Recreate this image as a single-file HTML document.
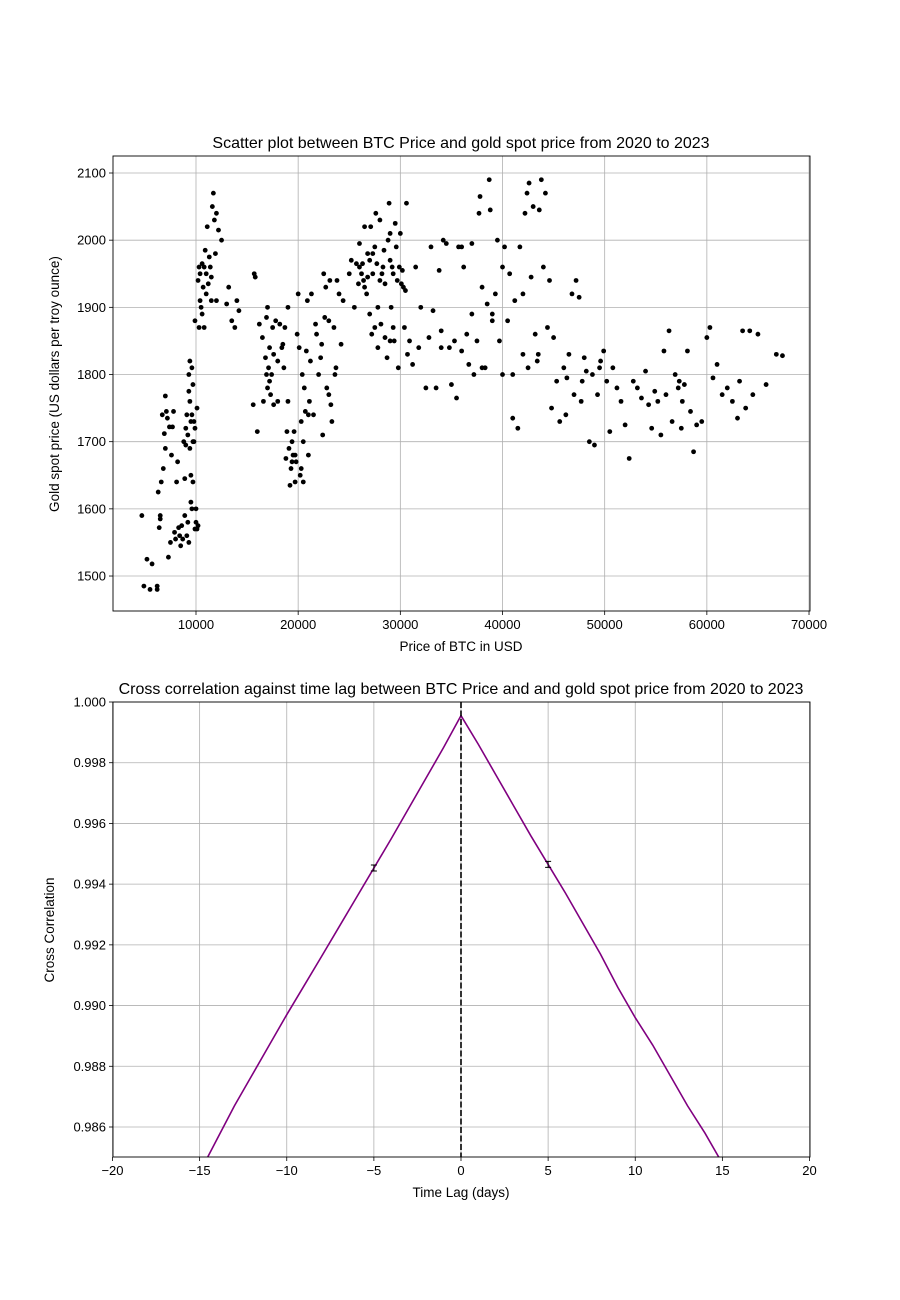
<!DOCTYPE html>
<html><head><meta charset="utf-8"><style>
html,body{margin:0;padding:0;background:#fff;}
svg{display:block;font-family:"Liberation Sans","DejaVu Sans",sans-serif;}
</style></head><body>
<svg id="chart" width="900" height="1300" viewBox="0 0 900 1300">
<defs>
<clipPath id="c1"><rect x="113" y="156" width="697" height="455"/></clipPath>
<clipPath id="c2"><rect x="113" y="702" width="697" height="455"/></clipPath>
</defs>
<g id="top"></g>
<g id="bot"></g>
</svg>
<script>
const xTicks1=[10000,20000,30000,40000,50000,60000,70000];
const yTicks1=[1500,1600,1700,1800,1900,2000,2100];
const pts=[[4700,1590],[4900,1485],[5200,1525],[5500,1480],[5700,1518],[6200,1480],[6200,1485],[6300,1625],[6400,1572],[6500,1590],[6500,1585],[6600,1640],[6700,1740],[6800,1660],[6900,1712],[7000,1690],[7000,1768],[7100,1745],[7200,1735],[7300,1528],[7400,1722],[7500,1550],[7600,1680],[7700,1722],[7800,1745],[7900,1565],[8000,1555],[8100,1640],[8200,1670],[8300,1572],[8400,1560],[8500,1545],[8600,1575],[8700,1555],[8800,1700],[8900,1645],[8900,1590],[9000,1695],[9000,1720],[9100,1560],[9100,1740],[9200,1580],[9200,1710],[9300,1775],[9300,1800],[9300,1550],[9400,1820],[9400,1760],[9400,1690],[9500,1730],[9500,1650],[9500,1610],[9600,1740],[9600,1810],[9600,1600],[9700,1785],[9700,1700],[9700,1640],[9800,1730],[9800,1700],[9900,1720],[9900,1880],[9900,1570],[10000,1600],[10000,1580],[10100,1750],[10100,1570],[10200,1575],[10200,1940],[10300,1960],[10300,1870],[10400,1950],[10400,1910],[10500,1900],[10600,1965],[10600,1890],[10700,1930],[10800,1960],[10800,1870],[10900,1985],[11000,1950],[11000,1920],[11100,2020],[11200,1935],[11300,1975],[11400,1960],[11500,1945],[11600,2050],[11700,2070],[11800,2030],[11900,1980],[12000,2040],[12200,2015],[12500,2000],[12000,1910],[11500,1910],[13000,1905],[13200,1930],[13500,1880],[13800,1870],[14000,1910],[14200,1895],
[15700,1950],[15800,1945],[15600,1755],[16000,1715],[16200,1875],[16500,1855],[16600,1760],[16800,1825],[16900,1885],[17000,1780],[17100,1810],[17200,1840],[17300,1770],[17400,1800],[17500,1870],[17600,1755],[17800,1880],[18000,1820],[18200,1875],[18400,1840],[18600,1810],[18700,1870],[18800,1675],[18900,1715],[19000,1900],[19100,1690],[19200,1635],[19300,1660],[19400,1700],[19500,1680],[19600,1715],[19700,1640],[19800,1670],[19900,1860],[20000,1920],[20100,1840],[20200,1650],[20300,1730],[20400,1800],[20500,1640],[20600,1780],[20700,1745],[20800,1835],[20900,1910],[21000,1680],[21100,1760],[21200,1820],[21300,1920],[21500,1740],[21700,1875],[21800,1860],[22000,1800],[22200,1825],[22400,1710],[22500,1950],[22600,1885],[22700,1930],[22800,1780],[23000,1880],[23100,1940],[23200,1755],[23300,1730],[23500,1870],[23700,1810],[23800,1940],[24000,1920],[24200,1845],[24400,1910],[22300,1845],[21000,1740],[20500,1700],[19000,1760],[18000,1760],[17000,1900],[19400,1670],[19700,1680],[20300,1660],[17200,1790],[17600,1830],[18500,1845],[16900,1800],[23000,1770],[23600,1800],
[25000,1950],[25200,1970],[25500,1900],[25700,1965],[25900,1935],[26000,1995],[26200,1950],[26400,1940],[26500,1930],[26700,1920],[26800,1980],[27000,1890],[27100,2020],[27200,1860],[27300,1950],[27500,1990],[27600,2040],[27700,1965],[27800,1840],[28000,2030],[28100,1875],[28200,1950],[28400,1985],[28500,1935],[28700,1825],[28800,2000],[28900,2055],[29000,1970],[29100,1900],[29200,1960],[29300,1870],[29400,1850],[29500,2025],[29600,1990],[29700,1940],[29800,1810],[30000,2010],[30200,1955],[30300,1930],[30400,1870],[30500,1925],[30600,2055],[30700,1830],[30900,1850],[31200,1815],[31500,1960],[31800,1840],[32000,1900],[27000,1970],[28000,1940],[29000,2010],[26000,1960],[27500,1870],[26500,2020],[26300,1965],[26800,1945],[27300,1980],[28300,1960],[29300,1950],[29900,1960],[30100,1935],[29000,1850],[28500,1855],[27800,1900],
[32500,1780],[32800,1855],[33000,1990],[33200,1895],[33500,1780],[33800,1955],[34000,1865],[34200,2000],[34500,1995],[34800,1840],[35000,1785],[35300,1850],[35500,1765],[35700,1990],[36000,1835],[36200,1960],[36500,1860],[36700,1815],[37000,1995],[37200,1800],[37500,1850],[37700,2040],[37800,2065],[38000,1930],[38300,1810],[38500,1905],[38700,2090],[38800,2045],[39000,1880],[39300,1920],[39500,2000],[39700,1850],[40000,1800],[40200,1990],[40500,1880],[40700,1950],[41000,1735],[41200,1910],[41500,1720],[41700,1990],[42000,1830],[42200,2040],[42400,2070],[42600,2085],[42800,1945],[43000,2050],[43200,1860],[43400,1820],[43600,2045],[43800,2090],[44000,1960],[44200,2070],[44400,1870],[44600,1940],[44800,1750],[45000,1855],[42000,1920],[40000,1960],[38000,1810],[36000,1990],[34000,1840],[42500,1810],[43500,1830],[41000,1800],[39000,1890],[37000,1890],
[45300,1790],[45600,1730],[46000,1810],[46200,1740],[46500,1830],[46800,1920],[47000,1770],[47200,1940],[47500,1915],[47700,1760],[48000,1825],[48200,1805],[48500,1700],[48800,1800],[49000,1695],[49300,1770],[49600,1820],[49900,1835],[50200,1790],[50500,1715],[50800,1810],[51200,1780],[51600,1760],[52000,1725],[52400,1675],[52800,1790],[53200,1780],[53600,1765],[54000,1805],[54300,1755],[54600,1720],[54900,1775],[55200,1760],[55500,1710],[55800,1835],[56000,1770],[56300,1865],[56600,1730],[56900,1800],[57200,1780],[57500,1720],[57800,1785],[58100,1835],[58400,1745],[58700,1685],[59000,1725],[59500,1730],[60000,1855],[60300,1870],[60600,1795],[61000,1815],[61500,1770],[62000,1780],[62500,1760],[63000,1735],[63200,1790],[63500,1865],[63800,1750],[64200,1865],[64500,1770],[65000,1860],[65800,1785],[66800,1830],[67400,1828],[46300,1795],[47800,1790],[49500,1810],[57300,1790],[57600,1760]];
const lags=[-16,-15,-14,-13,-12,-11,-10,-9,-8,-7,-6,-5,-4,-3,-2,-1,0,1,2,3,4,5,6,7,8,9,10,11,12,13,14,15,16];
const ccVals=[0.9835,0.9845,0.9856,0.9867,0.9877,0.9887,0.9897,0.99066,0.99162,0.99259,0.99356,0.99453,0.9955,0.9965,0.9975,0.9985,0.99955,0.9986,0.9976,0.9966,0.9956,0.99465,0.9937,0.9927,0.9917,0.9906,0.9896,0.9887,0.9877,0.9867,0.9858,0.9848,0.9838];
const xTicks2=[-20,-15,-10,-5,0,5,10,15,20];
const yTicks2=[0.986,0.988,0.990,0.992,0.994,0.996,0.998,1.000];

const NS="http://www.w3.org/2000/svg";
function mk(parent,tag,attrs,text){const e=document.createElementNS(NS,tag);for(const k in attrs)e.setAttribute(k,attrs[k]);if(text!==undefined)e.textContent=text;parent.appendChild(e);return e;}

const X1=v=>196+(v-10000)*0.010217, Y1=v=>173+(2100-v)*0.6717;
const T=document.getElementById('top');
for(const t of xTicks1){const x=X1(t);
 const g=mk(T,'line',{x1:x,x2:x,y1:156,y2:611,stroke:'#b0b0b0','stroke-width':0.8});
 
 mk(T,'line',{x1:x,x2:x,y1:611,y2:615,stroke:'#000','stroke-width':0.8});
 const l=mk(T,'text',{x:x,y:629,'font-size':13,'text-anchor':'middle'},t);
 }
for(const t of yTicks1){const y=Y1(t);
 const g=mk(T,'line',{x1:113,x2:810,y1:y,y2:y,stroke:'#b0b0b0','stroke-width':0.8});
 
 mk(T,'line',{x1:109,x2:113,y1:y,y2:y,stroke:'#000','stroke-width':0.8});
 const l=mk(T,'text',{x:106,y:y+4.5,'font-size':13,'text-anchor':'end'},t);
 }
const pg=mk(T,'g',{'clip-path':'url(#c1)'});
for(const p of pts){const c=mk(pg,'circle',{cx:X1(p[0]),cy:Y1(p[1]),r:2.4,fill:'#000'});
 }
let f=mk(T,'rect',{x:113,y:156,width:697,height:455,fill:'none',stroke:'#000','stroke-width':0.9});

f=mk(T,'text',{x:461,y:148,'font-size':16,'text-anchor':'middle'},'Scatter plot between BTC Price and gold spot price from 2020 to 2023');

f=mk(T,'text',{x:461,y:651,'font-size':13.5,'text-anchor':'middle'},'Price of BTC in USD');

f=mk(T,'text',{x:59,y:384,'font-size':13.5,'text-anchor':'middle',transform:'rotate(-90 59 384)'},'Gold spot price (US dollars per troy ounce)');


const X2=v=>461+v*17.425, Y2=v=>702+(1.0-v)*30357;
const B=document.getElementById('bot');
for(const t of xTicks2){const x=X2(t);
 const g=mk(B,'line',{x1:x,x2:x,y1:702,y2:1157,stroke:'#b0b0b0','stroke-width':0.8});
 
 mk(B,'line',{x1:x,x2:x,y1:1157,y2:1161,stroke:'#000','stroke-width':0.8});
 const l=mk(B,'text',{x:x,y:1175,'font-size':13,'text-anchor':'middle'},t<0?'\u2212'+(-t):t);
 }
for(const t of yTicks2){const y=Y2(t);
 const g=mk(B,'line',{x1:113,x2:810,y1:y,y2:y,stroke:'#b0b0b0','stroke-width':0.8});
 
 mk(B,'line',{x1:109,x2:113,y1:y,y2:y,stroke:'#000','stroke-width':0.8});
 const l=mk(B,'text',{x:106,y:y+4.5,'font-size':13,'text-anchor':'end'},t.toFixed(3));
 }
const lg=mk(B,'g',{'clip-path':'url(#c2)'});
const line=mk(lg,'polyline',{points:lags.map((l,i)=>X2(l)+','+Y2(ccVals[i])).join(' '),fill:'none',stroke:'#800080','stroke-width':1.6});

for(const lv of [-5,5]){const i=lags.indexOf(lv);const x=X2(lv),y=Y2(ccVals[i]);
 const m=mk(lg,'path',{d:`M${x-3},${y-3}H${x+3}M${x},${y-3}V${y+3}M${x-3},${y+3}H${x+3}`,stroke:'#000','stroke-width':1,fill:'none'});
 }
const vl=mk(B,'line',{x1:X2(0),x2:X2(0),y1:702,y2:1157,stroke:'#000','stroke-width':1.6,'stroke-dasharray':'6,2.5'});

f=mk(B,'rect',{x:113,y:702,width:697,height:455,fill:'none',stroke:'#000','stroke-width':0.9});

f=mk(B,'text',{x:461,y:694,'font-size':16,'text-anchor':'middle'},'Cross correlation against time lag between BTC Price and and gold spot price from 2020 to 2023');

f=mk(B,'text',{x:461,y:1197,'font-size':13.5,'text-anchor':'middle'},'Time Lag (days)');

f=mk(B,'text',{x:54,y:930,'font-size':13.5,'text-anchor':'middle',transform:'rotate(-90 54 930)'},'Cross Correlation');

</script>
</body></html>
